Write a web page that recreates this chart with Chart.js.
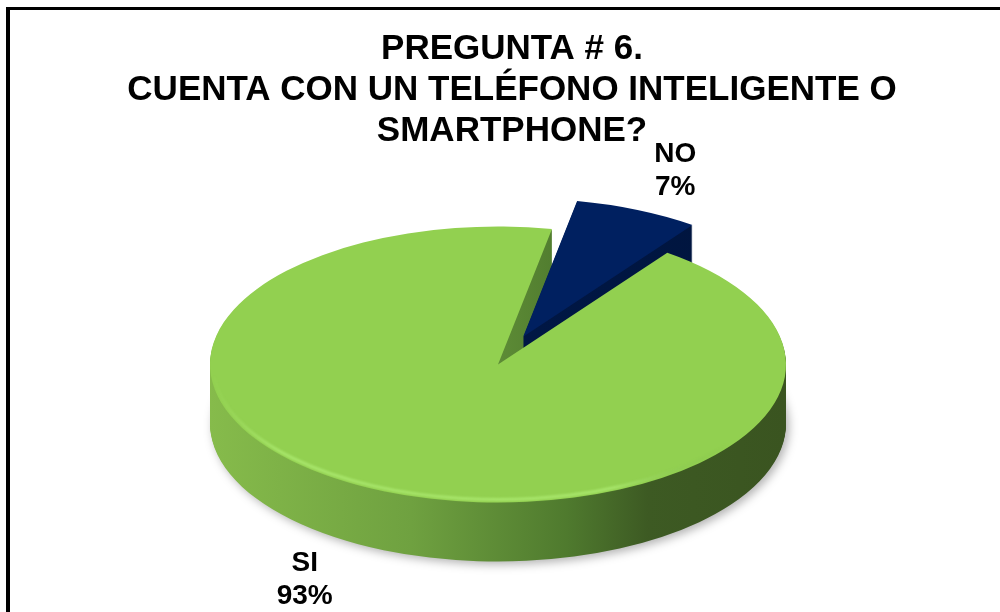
<!DOCTYPE html>
<html>
<head>
<meta charset="utf-8">
<script src="https://cdn.jsdelivr.net/npm/chart.js@4.4.1/dist/chart.umd.min.js"></script>
<style>
  html, body { margin: 0; padding: 0; background: #ffffff; }
  #wrap { position: relative; width: 1000px; height: 612px; overflow: hidden; }
  #frame { position: absolute; left: 6px; top: 7px; right: -10px; bottom: -10px;
           border-left: 4px solid #000; border-top: 3px solid #000; pointer-events: none; }
  canvas { position: absolute; left: 0; top: 0; }
</style>
</head>
<body>
<div id="wrap">
  <canvas id="c" width="1000" height="612"></canvas>
  <div id="frame"></div>
</div>
<script>
// ---- data ----
const categories = ['SI', 'NO'];
const percentages = [93, 7];
const titleLines = ['PREGUNTA # 6.', 'CUENTA CON UN TELÉFONO INTELIGENTE O', 'SMARTPHONE?'];

// ---- styles ----
const topColors = ['#92D050', '#002060'];
const explodeFraction = [0, 0.22];
const labelDistX = [1.69, 1.55];
const labelDistY = [1.56, 1.53];
const FONT = "'Liberation Sans', Arial, sans-serif";

function sideFill(ctx, i, x0, x1) {
  const g = ctx.createLinearGradient(x0, 0, x1, 0);
  if (i === 0) {
    g.addColorStop(0, '#86bb4b');
    g.addColorStop(0.35, '#6fa140');
    g.addColorStop(0.62, '#4f7a2e');
    g.addColorStop(0.76, '#3d5a23');
    g.addColorStop(1, '#3a5420');
  } else {
    g.addColorStop(0, '#001a4d');
    g.addColorStop(1, '#00143c');
  }
  return g;
}

const pie3d = {
  id: 'pie3d',
  beforeDatasetsDraw(chart, args, o) {
    const ctx = chart.ctx;
    const arcs = chart.getDatasetMeta(0).data;
    const r = arcs[0].outerRadius;
    const cx = arcs[0].x, cy = arcs[0].y;
    const tx = cx + o.dx;
    const sx = o.rx / r, sy = o.ry / r;
    const drawOne = (arc, i, dy, fill, shadow) => {
      const mid = (arc.startAngle + arc.endAngle) / 2;
      const ex = (explodeFraction[i] || 0) * r;
      ctx.save();
      ctx.translate(tx, cy + dy);
      ctx.scale(sx, sy);
      ctx.translate(-cx + Math.cos(mid) * ex, -cy + Math.sin(mid) * ex);
      if (shadow) {
        ctx.shadowColor = 'rgba(0,0,0,0.30)';
        ctx.shadowBlur = 10;
        ctx.shadowOffsetX = 3;
        ctx.shadowOffsetY = 3;
      }
      const saved = arc.options;
      arc.options = Object.assign({}, saved, {
        offset: 0, borderWidth: 0,
        backgroundColor: fill === null ? saved.backgroundColor : fill(ctx, i, cx - r, cx + r)
      });
      arc.draw(ctx);
      arc.options = saved;
      ctx.restore();
    };
    // extruded sides
    arcs.forEach((arc, i) => {
      for (let d = o.depth; d >= 1; d--) {
        drawOne(arc, i, d, sideFill, d === o.depth && i === 0);
      }
    });
    // top faces
    arcs.forEach((arc, i) => drawOne(arc, i, 0, null, false));
    // soft bevel highlight along the front rim of the big slice
    ctx.save();
    const hg = ctx.createLinearGradient(tx - o.rx, 0, tx + o.rx, 0);
    hg.addColorStop(0, 'rgba(170,230,110,0)');
    hg.addColorStop(0.12, 'rgba(170,232,110,0.9)');
    hg.addColorStop(0.7, 'rgba(170,232,110,0.9)');
    hg.addColorStop(0.9, 'rgba(120,180,70,0)');
    ctx.beginPath();
    ctx.ellipse(tx, cy, o.rx - 3, o.ry - 3, 0, 0.04 * Math.PI, 0.97 * Math.PI);
    ctx.strokeStyle = hg;
    ctx.lineWidth = 3;
    ctx.filter = 'blur(1px)';
    ctx.stroke();
    ctx.restore();
    return false;
  },
  afterDraw(chart, args, o) {
    const ctx = chart.ctx;
    const arcs = chart.getDatasetMeta(0).data;
    const cx = arcs[0].x + o.dx, cy = arcs[0].y;
    ctx.save();
    ctx.fillStyle = '#000';
    ctx.font = 'bold 28px ' + FONT;
    ctx.textAlign = 'center';
    ctx.textBaseline = 'middle';
    arcs.forEach((arc, i) => {
      const mid = (arc.startAngle + arc.endAngle) / 2;
      const c = Math.cos(mid), s = Math.sin(mid);
      const lx = cx + o.rx * c * labelDistX[i];
      const ly = cy + o.ry * s * labelDistY[i] + (s > 0 ? o.depth * 0.3 : 0);
      const lines = [categories[i], percentages[i] + '%'];
      const lh = 33;
      lines.forEach((t, k) => ctx.fillText(t, lx, ly + (k - (lines.length - 1) / 2) * lh));
    });
    ctx.restore();
  }
};

new Chart(document.getElementById('c'), {
  type: 'pie',
  data: {
    labels: categories,
    datasets: [{
      data: percentages,
      backgroundColor: topColors,
      borderWidth: 0
    }]
  },
  options: {
    responsive: false,
    animation: false,
    devicePixelRatio: 1,
    rotation: 36,
    layout: { padding: { top: 0, bottom: 35, left: 24, right: 0 } },
    plugins: {
      legend: { display: false },
      tooltip: { enabled: false },
      title: {
        display: true,
        text: titleLines,
        color: '#000',
        font: { family: FONT, size: 35, weight: 'bold', lineHeight: '41px' },
        padding: { top: 29, bottom: 0 }
      },
      pie3d: { rx: 288, ry: 138, depth: 59, dx: -14 }
    }
  },
  plugins: [pie3d]
});
</script>
</body>
</html>
